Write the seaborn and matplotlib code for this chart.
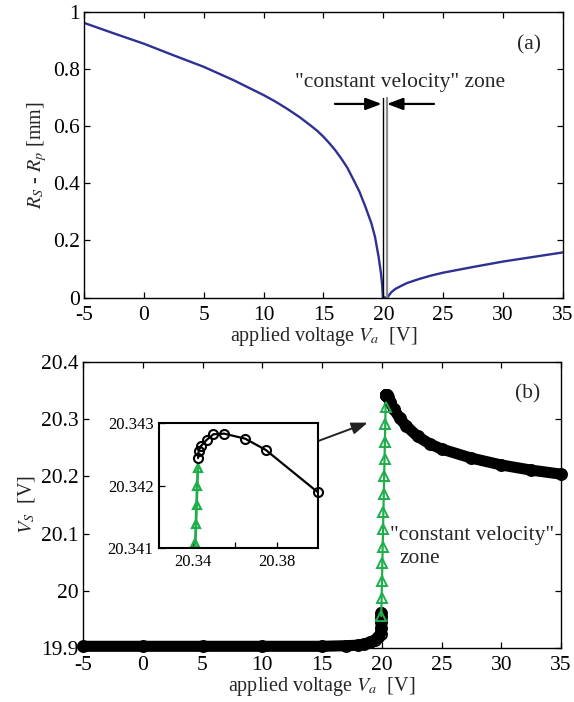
import matplotlib
matplotlib.use("Agg")
import matplotlib.pyplot as plt
import seaborn as sns
import pandas as pd

# ---- panel (a): separation R_S - R_p versus applied voltage ----
va_a = [-5, -2.5, 0, 2.5, 5, 7.5, 10, 11, 12, 13, 14, 14.5, 15, 15.5, 16,
        16.5, 17, 17.5, 18, 18.5, 19, 19.3, 19.6, 19.8, 19.9, 19.96, 20.34,
        20.5, 20.7, 21, 21.5, 22, 23, 24, 25, 27.5, 30, 32.5, 35]
gap_a = [0.962, 0.925, 0.889, 0.848, 0.808, 0.761, 0.709, 0.686, 0.660,
         0.632, 0.600, 0.583, 0.563, 0.540, 0.515, 0.486, 0.454, 0.413,
         0.371, 0.318, 0.260, 0.213, 0.143, 0.085, 0.044, 0.0, 0.0, 0.010,
         0.020, 0.030, 0.041, 0.051, 0.065, 0.077, 0.087, 0.107, 0.126,
         0.142, 0.158]
zone_edges = [19.96, 20.34]

# ---- panel (b): V_S versus applied voltage ----
# below the constant-velocity zone
va_low = [-5, 0, 5, 10, 15, 17, 18, 18.5, 19, 19.4, 19.7, 19.9, 19.95, 19.96,
          19.96, 19.96]
vs_low = [19.903, 19.903, 19.903, 19.903, 19.903, 19.904, 19.905, 19.907,
          19.910, 19.914, 19.919, 19.925, 19.935, 19.945, 19.955, 19.962]
# above the constant-velocity zone
va_high = [20.3424, 20.3427, 20.3437, 20.3465, 20.3497, 20.3548, 20.3648,
           20.3746, 20.3995, 20.5, 20.7, 21, 21.5, 22, 23, 24, 25, 27.5, 30,
           32.5, 35]
vs_high = [20.34244, 20.34256, 20.34263, 20.34273, 20.34282, 20.34283,
           20.34275, 20.34257, 20.34189, 20.338, 20.330, 20.318, 20.302,
           20.289, 20.270, 20.257, 20.248, 20.232, 20.220, 20.211, 20.204]
# constant-velocity zone (V_S = V_a)
va_zone = [19.956, 19.987, 20.017, 20.048, 20.077, 20.108, 20.138, 20.169,
           20.200, 20.231, 20.260, 20.291, 20.322]
vs_zone = [19.956, 19.987, 20.017, 20.048, 20.077, 20.108, 20.138, 20.169,
           20.200, 20.231, 20.260, 20.291, 20.322]
# finer sampling of the zone shown in the inset
va_zone_fine = [20.34078, 20.34108, 20.34138, 20.34169, 20.34200, 20.34228]
vs_zone_fine = [20.34078, 20.34108, 20.34138, 20.34169, 20.34200, 20.34228]
inset_n = 9  # points of the upper branch shown in the inset

x_ticks = [-5, 0, 5, 10, 15, 20, 25, 30, 35]
a_yticks = [0, 0.2, 0.4, 0.6, 0.8, 1]
a_ylabels = ["0", "0.2", "0.4", "0.6", "0.8", "1"]
b_yticks = [19.9, 20.0, 20.1, 20.2, 20.3, 20.4]
b_ylabels = ["19.9", "20", "20.1", "20.2", "20.3", "20.4"]
in_xticks = [20.34, 20.36, 20.38]
in_xlabels = ["20.34", "", "20.38"]
in_yticks = [20.341, 20.342, 20.343]
in_ylabels = ["20.341", "20.342", "20.343"]

BLUE = "#2e3192"
GREEN = "#1fae4b"
FS = 15.5

sns.set_theme(style="ticks")
plt.rcParams["font.family"] = ["Liberation Serif", "DejaVu Serif"]
plt.rcParams["mathtext.fontset"] = "stix"
plt.rcParams["axes.linewidth"] = 1.0
plt.rcParams["axes.edgecolor"] = "black"

fig = plt.figure(figsize=(5.74, 7.02), dpi=100)
ax_a = fig.add_axes([0.1463, 0.5762, 0.8345, 0.4067])
ax_b = fig.add_axes([0.1446, 0.0769, 0.8328, 0.4074])


def style_axes(ax, size=FS):
    ax.tick_params(direction="in", top=True, right=True, length=4, width=0.9,
                   labelsize=size, colors="black", pad=6)
    ax.tick_params(axis="y", pad=3)
    for s in ax.spines.values():
        s.set_visible(True)
        s.set_color("black")


# ---------------- panel (a) ----------------
df_a = pd.DataFrame({"va": va_a, "gap": gap_a})
sns.lineplot(data=df_a, x="va", y="gap", ax=ax_a, color=BLUE, lw=1.7,
             sort=False, estimator=None)
ax_a.plot([zone_edges[0]] * 2, [0, 0.70], color="black", lw=1.0)
ax_a.plot([zone_edges[1]] * 2, [0, 0.70], color="#8c8c8c", lw=1.6)
arrow_kw = dict(arrowstyle="-|>,head_length=0.8,head_width=0.3", color="black",
                lw=1.6, shrinkA=0, shrinkB=0)
ax_a.annotate("", xy=(19.86, 0.678), xytext=(15.96, 0.678), arrowprops=arrow_kw)
ax_a.annotate("", xy=(20.30, 0.678), xytext=(24.23, 0.678), arrowprops=arrow_kw)
ax_a.text(21.4, 0.752, '"constant velocity" zone', ha="center", va="center",
          fontsize=FS)
ax_a.text(0.93, 0.884, "(a)", transform=ax_a.transAxes, ha="center",
          va="center", fontsize=FS)
ax_a.set_xlim(-5, 35)
ax_a.set_ylim(0, 1)
ax_a.set_xticks(x_ticks)
ax_a.set_xticklabels([str(t) for t in x_ticks])
ax_a.set_yticks(a_yticks)
ax_a.set_yticklabels(a_ylabels)
ax_a.set_xlabel(r"applied voltage $V_a$  [V]", fontsize=14.5, labelpad=0)
ax_a.set_ylabel(r"$R_S$ - $R_p$ [mm]", fontsize=14.5, labelpad=3)
style_axes(ax_a)

# ---------------- panel (b) ----------------
df_low = pd.DataFrame({"va": va_low, "vs": vs_low})
df_high = pd.DataFrame({"va": va_high, "vs": vs_high})
df_zone = pd.DataFrame({"va": va_zone, "vs": vs_zone})

for df in (df_low, df_high):
    sns.lineplot(data=df, x="va", y="vs", ax=ax_b, color="black", lw=8,
                 sort=False, estimator=None, solid_capstyle="round",
                 clip_on=False, zorder=3)
    sns.lineplot(data=df, x="va", y="vs", ax=ax_b, color="black", lw=0,
                 marker="o", markersize=8, markerfacecolor="none",
                 markeredgecolor="black", markeredgewidth=1.3,
                 sort=False, estimator=None, clip_on=False, zorder=3)
sns.lineplot(data=df_zone, x="va", y="vs", ax=ax_b, color=GREEN, lw=1.6,
             marker="^", markersize=7.5, markerfacecolor="none",
             markeredgecolor=GREEN, markeredgewidth=1.4, sort=False,
             estimator=None, zorder=4)

ax_b.text(0.93, 0.89, "(b)", transform=ax_b.transAxes, ha="center",
          va="center", fontsize=FS)
ax_b.text(20.7, 20.097, '"constant velocity"', ha="left", va="center",
          fontsize=FS)
ax_b.text(21.5, 20.057, "zone", ha="left", va="center", fontsize=FS)
ax_b.annotate("", xy=(18.82, 20.294), xytext=(14.69, 20.262),
              arrowprops=dict(arrowstyle="-|>,head_length=0.8,head_width=0.3",
                              color="#222222", lw=1.4, shrinkA=0, shrinkB=0))
ax_b.set_xlim(-5, 35)
ax_b.set_ylim(19.9, 20.4)
ax_b.set_xticks(x_ticks)
ax_b.set_xticklabels([str(t) for t in x_ticks])
ax_b.set_yticks(b_yticks)
ax_b.set_yticklabels(b_ylabels)
ax_b.set_xlabel(r"applied voltage $V_a$  [V]", fontsize=14.5, labelpad=0)
ax_b.set_ylabel(r"$V_S$  [V]", fontsize=14.5, labelpad=3)
style_axes(ax_b)

# ---------------- inset ----------------
ax_in = fig.add_axes([0.277, 0.2194, 0.277, 0.178])
df_top = pd.DataFrame({"va": va_high[:inset_n], "vs": vs_high[:inset_n]})
df_fine = pd.DataFrame({"va": va_zone_fine, "vs": vs_zone_fine})
sns.lineplot(data=df_fine, x="va", y="vs", ax=ax_in, color=GREEN, lw=2.0,
             marker="^", markersize=6, markerfacecolor="none",
             markeredgecolor=GREEN, markeredgewidth=1.6, sort=False,
             estimator=None)
sns.lineplot(data=df_top, x="va", y="vs", ax=ax_in, color="black", lw=1.6,
             marker="o", markersize=6.5, markerfacecolor="none",
             markeredgecolor="black", markeredgewidth=1.5, sort=False,
             estimator=None, clip_on=False)
ax_in.set_xlim(20.3238, 20.3995)
ax_in.set_ylim(20.341, 20.343)
ax_in.set_xticks(in_xticks)
ax_in.set_xticklabels(in_xlabels)
ax_in.set_yticks(in_yticks)
ax_in.set_yticklabels(in_ylabels)
ax_in.set_xlabel("")
ax_in.set_ylabel("")
ax_in.tick_params(direction="in", top=False, right=False, length=4,
                  width=0.9, labelsize=12, colors="black", pad=4)
for s in ax_in.spines.values():
    s.set_visible(True)
    s.set_color("black")
    s.set_linewidth(1.5)

fig.savefig("out.png", dpi=100)
